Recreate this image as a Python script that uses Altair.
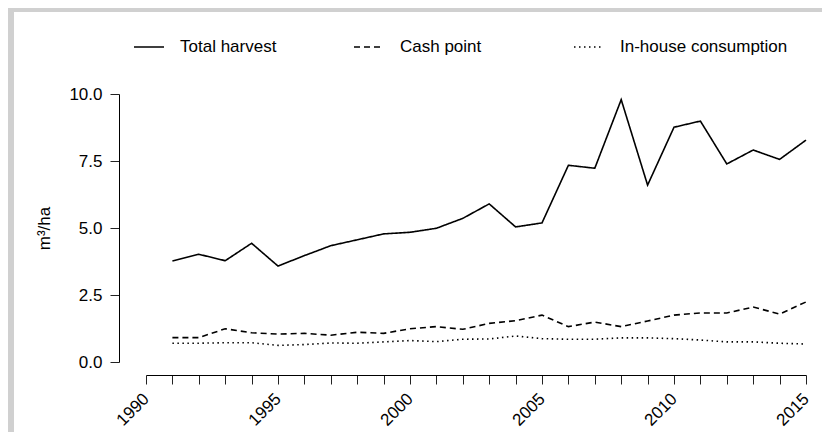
import altair as alt
import pandas as pd

years = list(range(1991, 2016))
total_harvest = [3.77, 4.02, 3.78, 4.43, 3.58, 3.97, 4.34, 4.56, 4.78, 4.84, 4.99, 5.36, 5.90,
                 5.04, 5.19, 7.34, 7.23, 9.79, 6.60, 8.76, 8.99, 7.39, 7.91, 7.56, 8.28]
cash_point = [0.91, 0.91, 1.24, 1.09, 1.04, 1.07, 1.00, 1.11, 1.07, 1.24, 1.32, 1.22, 1.44,
              1.54, 1.75, 1.32, 1.49, 1.32, 1.53, 1.75, 1.83, 1.83, 2.05, 1.79, 2.24]
in_house = [0.70, 0.70, 0.72, 0.72, 0.62, 0.65, 0.71, 0.70, 0.75, 0.80, 0.76, 0.85, 0.86,
            0.97, 0.87, 0.85, 0.85, 0.90, 0.90, 0.87, 0.82, 0.75, 0.75, 0.70, 0.67]
series_names = ["Total harvest", "Cash point", "In-house consumption"]
x_ticks = list(range(1990, 2016))
y_ticks = [0, 2.5, 5, 7.5, 10]

rows = []
for name, vals in zip(series_names, [total_harvest, cash_point, in_house]):
    for yr, v in zip(years, vals):
        rows.append({"year": yr, "value": v, "series": name})
df = pd.DataFrame(rows)

FONT = "Liberation Sans"
FS = 17
W, H = 660, 268

lines = alt.Chart(df).mark_line(color="black", strokeWidth=1.6, strokeCap="butt").encode(
    x=alt.X("year:Q",
            scale=alt.Scale(domain=[1990, 2015], nice=False, zero=False),
            axis=alt.Axis(values=x_ticks, format="d",
                          labelExpr="datum.value % 5 == 0 ? datum.label : ''",
                          labelAngle=315, labelAlign="right", labelBaseline="middle",
                          labelPadding=12, tickSize=9, offset=13, grid=False,
                          domainColor="black", tickColor="#222", labelColor="black",
                          labelFont=FONT, labelFontSize=FS, labelOverlap=False,
                          labelBound=False, labelFlush=False, title=None)),
    y=alt.Y("value:Q",
            scale=alt.Scale(domain=[0, 10], nice=False, zero=True),
            axis=alt.Axis(values=y_ticks, format=".1f", tickSize=9, offset=27,
                          labelPadding=8, grid=False, domainColor="black",
                          tickColor="#222", labelColor="black", labelFont=FONT,
                          labelFontSize=FS, labelOverlap=False, labelFlush=False,
                          title="m³/ha", titleFont=FONT, titleFontSize=FS,
                          titleFontWeight="normal", titleColor="black", titlePadding=15)),
    strokeDash=alt.StrokeDash("series:N",
                              scale=alt.Scale(domain=series_names,
                                              range=[[1, 0], [6, 4], [1.5, 3.5]]),
                              sort=series_names,
                              legend=alt.Legend(title=None, orient="none", legendX=-13,
                                                legendY=-63, direction="horizontal",
                                                columns=3, gridAlign="all",
                                                columnPadding=3, symbolType="stroke",
                                                symbolSize=900, symbolStrokeWidth=1.5,
                                                symbolStrokeColor="black",
                                                labelFont=FONT, labelFontSize=FS,
                                                labelColor="black", labelOffset=15,
                                                labelLimit=400, padding=0)),
    detail="series:N",
)

frame_df = pd.DataFrame({"k": [0]})
left_band = alt.Chart(frame_df).mark_rule(color="#d0d0d0", strokeWidth=6).encode(
    x=alt.value(-135), y=alt.value(-90), y2=alt.value(H + 80))
top_band = alt.Chart(frame_df).mark_rule(color="#d0d0d0", strokeWidth=4).encode(
    y=alt.value(-84), x=alt.value(-138), x2=alt.value(W + 20))

chart = alt.layer(left_band, top_band, lines).properties(
    width=W, height=H,
    autosize=alt.AutoSizeParams(type="none"),
    padding={"left": 138, "top": 86, "right": 16, "bottom": 70},
    background="white",
).configure_view(stroke=None)

chart.save("out.html", embed_options={"renderer": "svg", "actions": False})
